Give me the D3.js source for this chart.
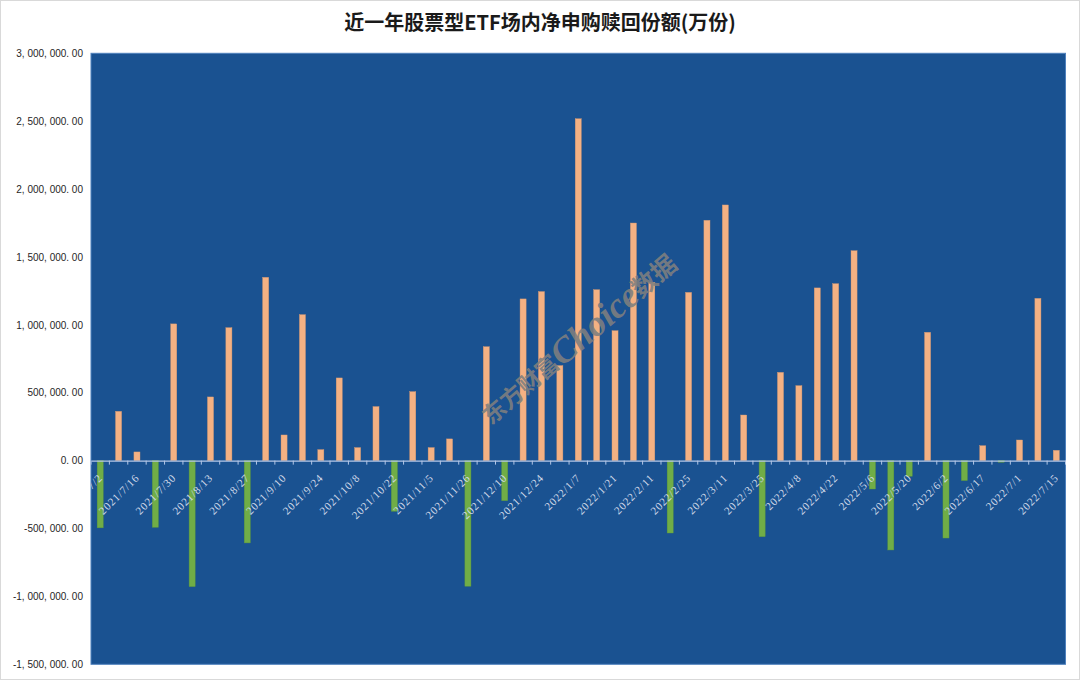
<!DOCTYPE html>
<html>
<head>
<meta charset="utf-8">
<script src="https://cdn.jsdelivr.net/npm/d3@7/dist/d3.min.js"></script>
<style>
  html, body { margin: 0; padding: 0; background: #fff; }
  svg { display: block; }
</style>
</head>
<body>
<svg id="chart" width="1080" height="680"></svg>
<script>
// ---- data (万份) ----
const categories = [
  "2021/7/2","2021/7/9","2021/7/16","2021/7/23","2021/7/30","2021/8/6","2021/8/13","2021/8/20",
  "2021/8/27","2021/9/3","2021/9/10","2021/9/17","2021/9/24","2021/9/30","2021/10/8","2021/10/15",
  "2021/10/22","2021/10/29","2021/11/5","2021/11/12","2021/11/26","2021/12/3","2021/12/10","2021/12/17",
  "2021/12/24","2021/12/31","2022/1/7","2022/1/14","2022/1/21","2022/1/28","2022/2/11","2022/2/18",
  "2022/2/25","2022/3/4","2022/3/11","2022/3/18","2022/3/25","2022/4/1","2022/4/8","2022/4/15",
  "2022/4/22","2022/4/29","2022/5/6","2022/5/13","2022/5/20","2022/5/27","2022/6/2","2022/6/10",
  "2022/6/17","2022/6/24","2022/7/1","2022/7/8","2022/7/15"
];
const values = [
  -495000, 363000, 64000, -491000, 1007000, -928000, 469000, 979000,
  -606000, 1350000, 189000, 1075000, 81000, 609000, 96000, 398000,
  -373000, 508000, 96000, 160000, -925000, 839000, -295000, 1191000,
  1245000, 700000, 2518000, 1259000, 957000, 1750000, 1313000, -533000,
  1239000, 1770000, 1883000, 336000, -560000, 650000, 552000, 1272000,
  1303000, 1546000, -209000, -658000, -115000, 945000, -570000, -147000,
  110000, -12000, 152000, 1195000, 76000
];
const yTicks = [3000000, 2500000, 2000000, 1500000, 1000000, 500000, 0, -500000, -1000000, -1500000];
const xTickLabels = categories.filter((d, i) => i % 2 === 0);
const title = "近一年股票型ETF场内净申购赎回份额(万份)";
const watermark = ["东方财富", "Choice", "数据"];

// ---- layout ----
const W = 1080, H = 680;
const plot = { left: 91, right: 1065.5, top: 53.3, bottom: 664.3 };

const svg = d3.select("#chart");

// outer border
svg.append("rect").attr("x", 0.5).attr("y", 0.5).attr("width", W - 1).attr("height", H - 1)
  .attr("fill", "#fff").attr("stroke", "#d9d9d9");

// title
svg.append("text").attr("x", 540).attr("y", 30).attr("text-anchor", "middle")
  .attr("font-family", "'Noto Sans CJK SC', 'Noto Sans', sans-serif")
  .attr("font-weight", "bold").attr("font-size", 20).attr("fill", "#1a1a1a")
  .text(title);

const x = d3.scaleBand().domain(categories).range([plot.left, plot.right]).paddingInner(0).paddingOuter(0);
const y = d3.scaleLinear().domain([-1500000, 3000000]).range([plot.bottom, plot.top]);

// plot background
svg.append("rect").attr("x", plot.left).attr("y", plot.top)
  .attr("width", plot.right - plot.left).attr("height", plot.bottom - plot.top)
  .attr("fill", "#1a5291").attr("stroke", "#4f81bd").attr("stroke-width", 1);

svg.append("clipPath").attr("id", "plotclip").append("rect")
  .attr("x", plot.left).attr("y", plot.top)
  .attr("width", plot.right - plot.left).attr("height", plot.bottom - plot.top);

// y axis labels
const fmt = d3.format(",.2f");
const yAxis = d3.axisLeft(y).tickValues(yTicks).tickSize(0).tickPadding(8)
  .tickFormat(d => fmt(d).replace(/,/g, ", ").replace(".", ". ").replace("\u2212", "-"));
const gy = svg.append("g").attr("transform", `translate(${plot.left - 0},0)`).call(yAxis);
gy.select(".domain").remove();
gy.selectAll("text").attr("font-family", "'Liberation Sans', Arial, sans-serif")
  .attr("font-size", 10).attr("fill", "#262626");

// bars
const bw = x.step() * 0.33;
svg.append("g").selectAll("rect").data(values).join("rect")
  .attr("x", (d, i) => x(categories[i]) + x.bandwidth() / 2 - bw / 2)
  .attr("width", bw)
  .attr("y", d => d >= 0 ? y(d) : y(0))
  .attr("height", d => Math.abs(y(d) - y(0)))
  .attr("fill", d => d >= 0 ? "#f4b183" : "#70ad47")
  .attr("stroke", d => d >= 0 ? "#d99a70" : "#5e9a3a").attr("stroke-width", 0.4);

// zero axis with ticks
const xAxis = d3.axisBottom(x).tickValues([]).tickSize(0);
const gx = svg.append("g").attr("transform", `translate(0,${y(0)})`).call(xAxis);
gx.select(".domain").attr("stroke", "#b4c7e7").attr("stroke-width", 1.3);
// tick marks at category boundaries
const bounds = categories.map(c => x(c)).concat([plot.right]);
gx.selectAll("line.tk").data(bounds).join("line").attr("class", "tk")
  .attr("x1", d => d).attr("x2", d => d).attr("y1", 0).attr("y2", 4)
  .attr("stroke", "#b4c7e7").attr("stroke-width", 1);

// x labels (rotated, clipped to plot)
const gl = svg.append("g").attr("clip-path", "url(#plotclip)");
gl.selectAll("text").data(xTickLabels).join("text")
  .attr("transform", d => `translate(${x(d) + x.bandwidth() / 2 + 3},${y(0) + 18}) rotate(-45)`)
  .attr("text-anchor", "end")
  .attr("font-family", "'Liberation Serif', 'Times New Roman', serif")
  .attr("font-size", 11).attr("letter-spacing", 0.8)
  .attr("fill", "#d3dbea")
  .text(d => d);

// watermark
const wm = svg.append("text")
  .attr("transform", "translate(578,338) rotate(-40.5)")
  .attr("text-anchor", "middle").attr("dominant-baseline", "central")
  .attr("fill", "#7f7f7f").attr("fill-opacity", 0.9);
wm.append("tspan").text(watermark[0]).attr("font-family", "'Noto Sans CJK SC', sans-serif")
  .attr("font-size", 23).attr("font-weight", "bold");
wm.append("tspan").text(watermark[1]).attr("font-family", "'Liberation Serif', serif")
  .attr("font-size", 36).attr("font-style", "italic").attr("font-weight", "bold");
wm.append("tspan").text(watermark[2]).attr("font-family", "'Noto Sans CJK SC', sans-serif")
  .attr("font-size", 25).attr("font-weight", "bold");
</script>
</body>
</html>
